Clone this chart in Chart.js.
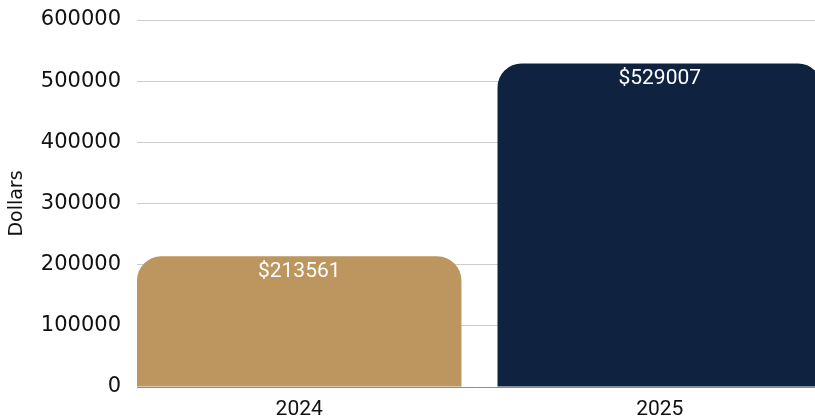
<!DOCTYPE html>
<html>
<head>
<meta charset="utf-8">
<script src="https://cdn.jsdelivr.net/npm/chart.js@4/dist/chart.umd.min.js"></script>
<style>
  html, body { margin: 0; padding: 0; background: #fff; overflow: hidden; }
  #wrap { width: 815px; height: 419px; position: relative; }
</style>
</head>
<body>
<div id="wrap"><canvas id="chart"></canvas></div>
<script>
const years = ["2024", "2025"];
const totals = [213561, 529007];
const barColors = ["#BD955E", "#0F2341"];
const yTicks = [0, 100000, 200000, 300000, 400000, 500000, 600000];

// white "$value" text just under the top of each bar
const valueLabels = {
  id: "valueLabels",
  afterDatasetsDraw(chart) {
    const { ctx } = chart;
    const meta = chart.getDatasetMeta(0);
    ctx.save();
    ctx.fillStyle = "#ffffff";
    ctx.font = "21px Roboto";
    ctx.textAlign = "center";
    ctx.textBaseline = "middle";
    meta.data.forEach((bar, i) => {
      ctx.fillText(`$${totals[i]}`, bar.x, bar.y + 15);
    });
    ctx.restore();
  }
};

new Chart(document.getElementById("chart").getContext("2d"), {
  type: "bar",
  data: {
    datasets: [{
      label: "Dollars",
      data: years.map((_, i) => ({ x: i, y: totals[i] })),
      backgroundColor: barColors,
      borderRadius: { topLeft: 24, topRight: 24, bottomLeft: 0, bottomRight: 0 },
      borderSkipped: false,
      barPercentage: 0.9,
      categoryPercentage: 1
    }]
  },
  options: {
    responsive: true,
    maintainAspectRatio: false,
    animation: false,
    events: [],
    layout: { padding: { top: 20, right: 0, bottom: 0, left: 6 } },
    plugins: {
      legend: { display: false },
      tooltip: { enabled: false }
    },
    scales: {
      x: {
        type: "linear",
        offset: false,
        min: -0.45,
        max: 1.4307,
        grid: { display: false },
        border: { display: true, color: "#8c8c8c", width: 1 },
        afterBuildTicks: scale => { scale.ticks = years.map((_, i) => ({ value: i })); },
        afterFit: scale => { scale.height = 32; scale.paddingLeft = 0; scale.paddingRight = 0; },
        ticks: {
          color: "#111",
          font: { family: "Roboto", size: 21 },
          padding: 2,
          maxRotation: 0,
          callback: value => years[value] ?? ""
        }
      },
      y: {
        min: 0,
        max: 600000,
        afterBuildTicks: scale => { scale.ticks = yTicks.map(v => ({ value: v })); },
        afterFit: scale => { scale.width = 131; scale.paddingTop = 0; scale.paddingBottom = 0; },
        grid: { color: "#cccccc", lineWidth: 1, drawTicks: false },
        border: { display: false },
        ticks: {
          color: "#111",
          font: { family: "DejaVu Sans", size: 21 },
          padding: 16,
          callback: value => String(value)
        },
        title: {
          display: true,
          text: "Dollars",
          color: "#111",
          font: { family: "DejaVu Sans", size: 19 },
          padding: { top: 0, bottom: 0 }
        }
      }
    }
  },
  plugins: [valueLabels]
});
</script>
</body>
</html>
